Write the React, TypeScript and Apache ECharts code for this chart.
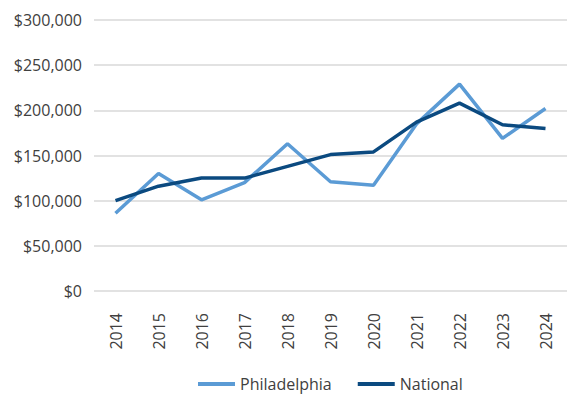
import React, { useEffect, useRef } from "react";
import * as echarts from "echarts";

const years = ["2014", "2015", "2016", "2017", "2018", "2019", "2020", "2021", "2022", "2023", "2024"];
const philadelphia = [86000, 130000, 101000, 120000, 163000, 121000, 117000, 185000, 229000, 169000, 202000];
const national = [100000, 116000, 125000, 125000, 138000, 151000, 154000, 187000, 208000, 184000, 180000];

const FONT = "Open Sans";

export default function App() {
  const ref = useRef<HTMLDivElement>(null);
  useEffect(() => {
    const chart = echarts.init(ref.current!, null, { renderer: "svg" });
    chart.setOption({
      animation: false,
      textStyle: { fontFamily: FONT },
      grid: { left: 94, right: 0, top: 20, bottom: 105, containLabel: false },
      legend: {
        bottom: -1,
        left: 193,
        itemWidth: 37,
        itemHeight: 4,
        itemGap: 26,
        icon: "rect",
        textStyle: { fontFamily: FONT, fontSize: 16, color: "#404040" },
        data: ["Philadelphia", "National"],
      },
      xAxis: {
        type: "category",
        data: years,
        boundaryGap: true,
        axisLine: { show: false },
        axisTick: { show: false },
        axisLabel: { rotate: 90, margin: 22, fontSize: 16, color: "#404040", fontFamily: FONT },
      },
      yAxis: {
        type: "value",
        min: 0,
        max: 300000,
        interval: 50000,
        axisLine: { show: false },
        axisTick: { show: false },
        splitLine: { lineStyle: { color: "#d9d9d9", width: 1.5 } },
        axisLabel: {
          margin: 12,
          fontSize: 16,
          color: "#404040",
          fontFamily: FONT,
          formatter: (v: number) => "$" + v.toLocaleString("en-US"),
        },
      },
      series: [
        {
          name: "Philadelphia",
          type: "line",
          data: philadelphia,
          symbol: "none",
          lineStyle: { width: 3.5, color: "#5B9BD5" },
          itemStyle: { color: "#5B9BD5" },
        },
        {
          name: "National",
          type: "line",
          data: national,
          symbol: "none",
          lineStyle: { width: 3.5, color: "#0B4A80" },
          itemStyle: { color: "#0B4A80" },
        },
      ],
    });
    return () => chart.dispose();
  }, []);
  return <div ref={ref} style={{ position: "absolute", left: 0, top: 0, width: 567, height: 396 }} />;
}
